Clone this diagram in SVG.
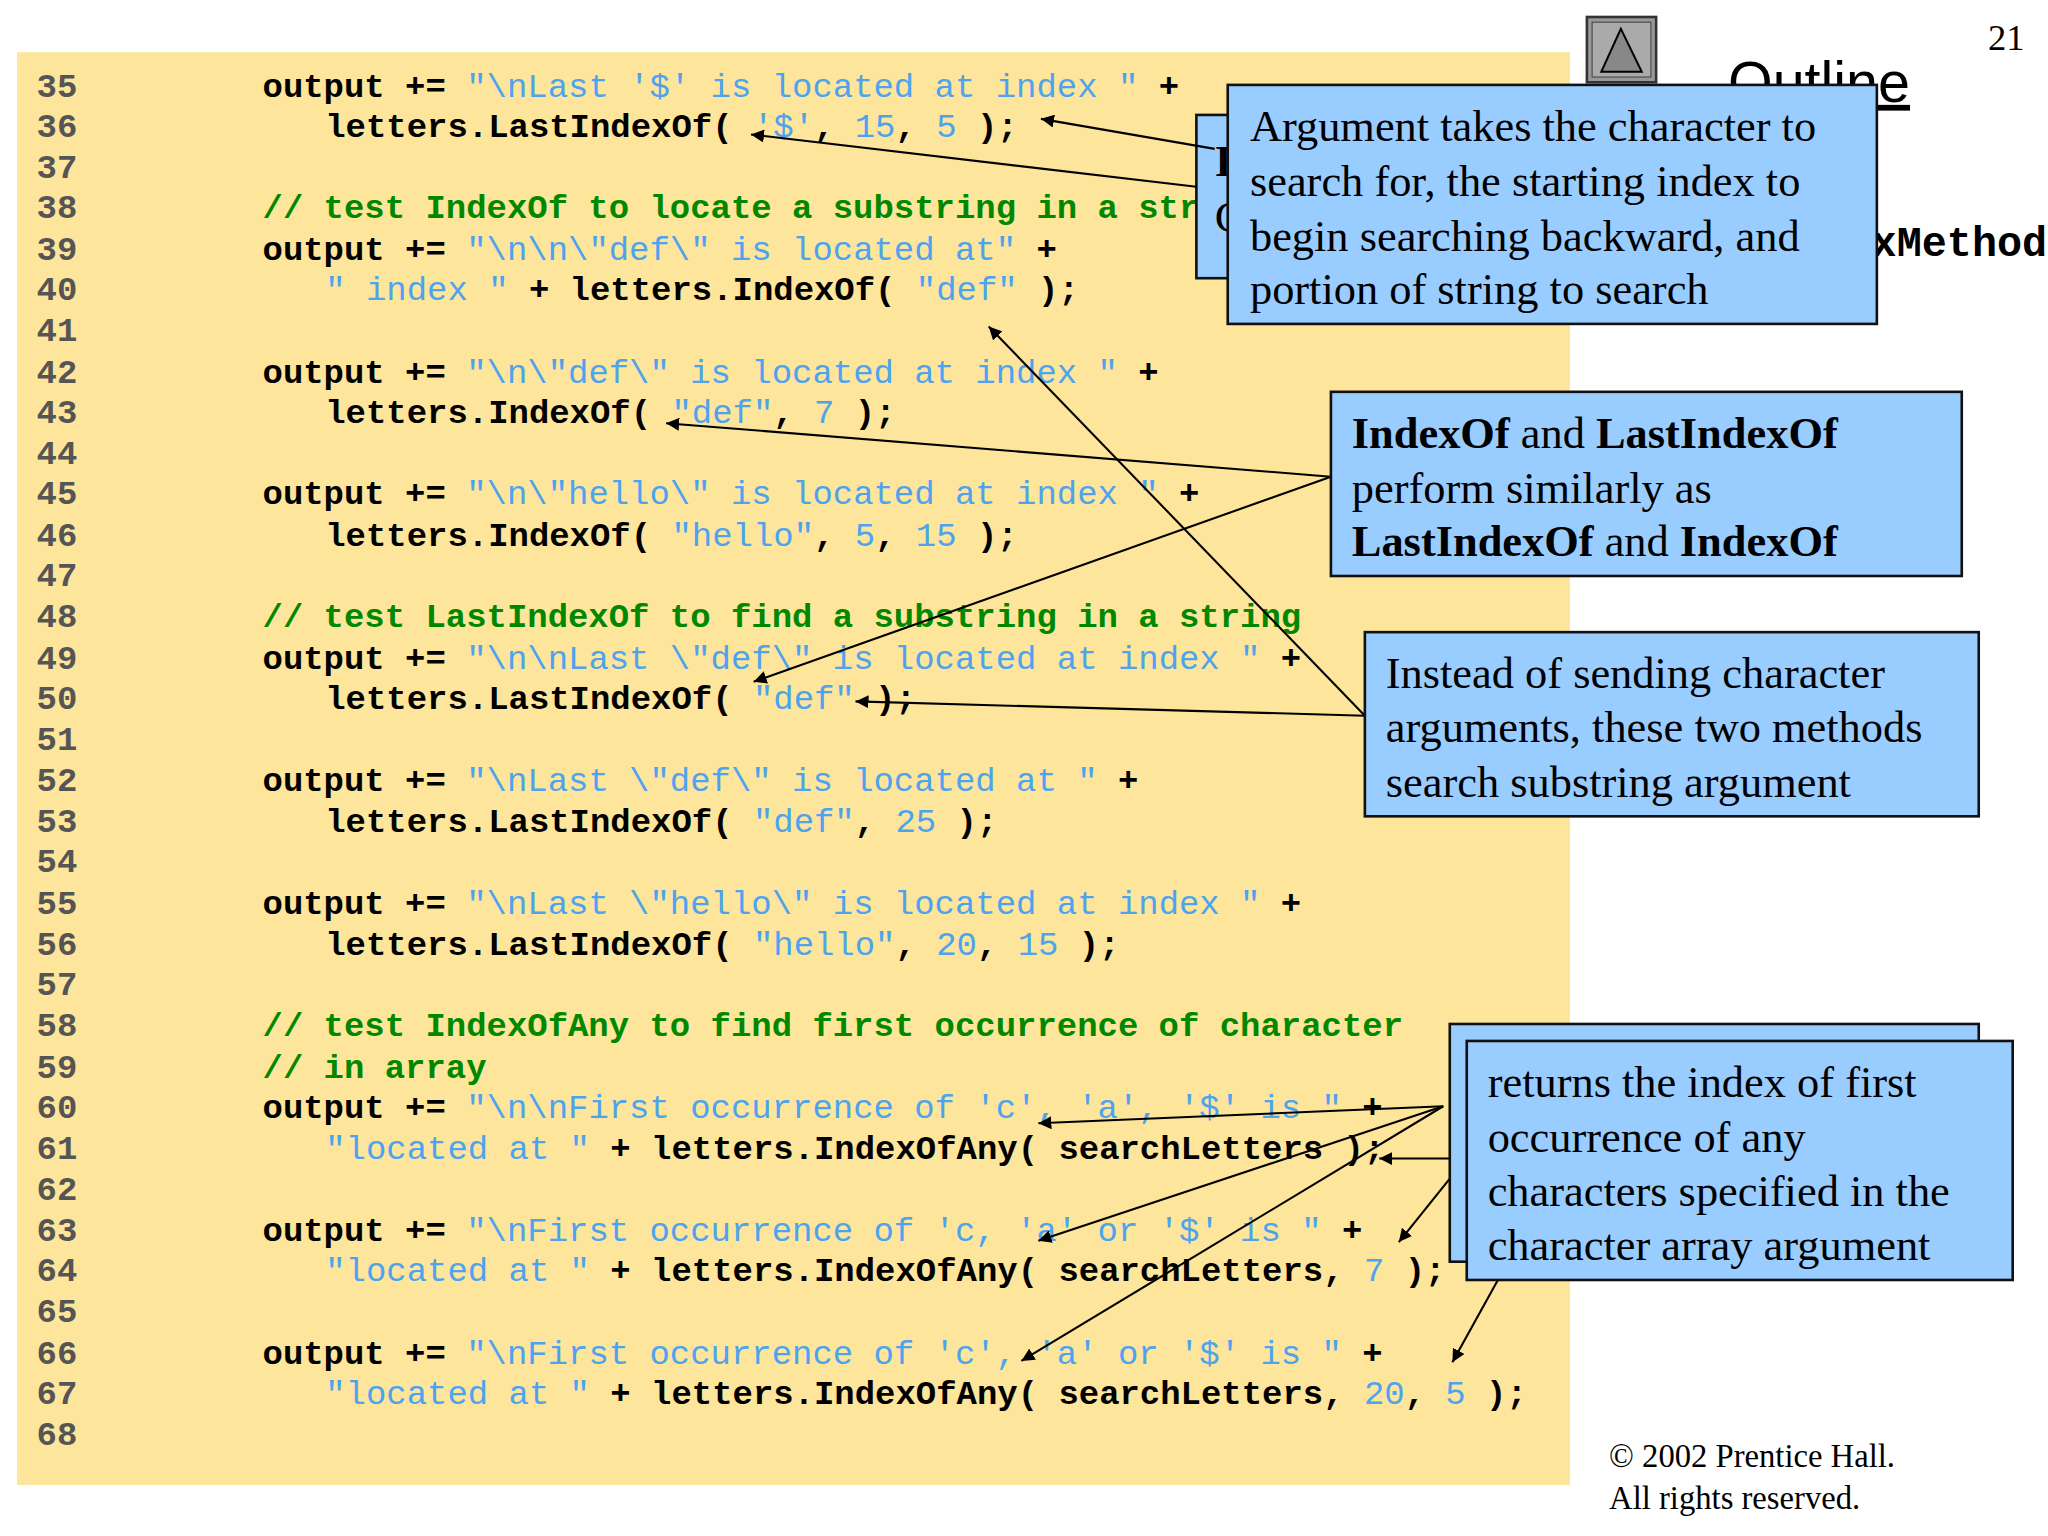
<svg xmlns="http://www.w3.org/2000/svg" width="2048" height="1536" viewBox="0 0 2048 1536">
<style>
.ln{font-family:"Liberation Mono",monospace;font-size:26px;fill:#555;font-weight:bold}
.c{font-family:"Liberation Mono",monospace;font-size:26px;font-weight:bold;fill:#000;white-space:pre}
.s{fill:#4da3ee;font-weight:normal}
.g{fill:#008800}
.box{fill:#99ccff;stroke:#111;stroke-width:2}
.t{font-family:"Liberation Serif",serif;font-size:34px;fill:#000}
.b{font-weight:bold}
.ar{stroke:#000;stroke-width:1.6;fill:none;marker-end:url(#ah)}
</style>
<defs><marker id="ah" viewBox="0 0 10 10" refX="10" refY="5" markerWidth="10" markerHeight="10" markerUnits="userSpaceOnUse" orient="auto"><path d="M0,0L10,5L0,10z" fill="#000"/></marker></defs>
<rect width="2048" height="1536" fill="#fff"/>
<g transform="scale(1.3061)">
<rect x="13" y="40" width="1189" height="1097" fill="#fde59b"/>
<g id="code">
<text class="ln" x="28" y="74">35</text><text class="c" x="201" y="74">output += <tspan class="s">"\nLast '$' is located at index "</tspan> +</text>
<text class="ln" x="28" y="105">36</text><text class="c" x="249" y="105">letters.LastIndexOf( <tspan class="s">'$'</tspan>, <tspan class="s">15</tspan>, <tspan class="s">5</tspan> );</text>
<text class="ln" x="28" y="136">37</text>
<text class="ln" x="28" y="167">38</text><text class="c g" x="201" y="167">// test IndexOf to locate a substring in a string</text>
<text class="ln" x="28" y="199">39</text><text class="c" x="201" y="199">output += <tspan class="s">"\n\n\"def\" is located at"</tspan> +</text>
<text class="ln" x="28" y="230">40</text><text class="c" x="249" y="230"><tspan class="s">" index "</tspan> + letters.IndexOf( <tspan class="s">"def"</tspan> );</text>
<text class="ln" x="28" y="261">41</text>
<text class="ln" x="28" y="293">42</text><text class="c" x="201" y="293">output += <tspan class="s">"\n\"def\" is located at index "</tspan> +</text>
<text class="ln" x="28" y="324">43</text><text class="c" x="249" y="324">letters.IndexOf( <tspan class="s">"def"</tspan>, <tspan class="s">7</tspan> );</text>
<text class="ln" x="28" y="355">44</text>
<text class="ln" x="28" y="386">45</text><text class="c" x="201" y="386">output += <tspan class="s">"\n\"hello\" is located at index "</tspan> +</text>
<text class="ln" x="28" y="418">46</text><text class="c" x="249" y="418">letters.IndexOf( <tspan class="s">"hello"</tspan>, <tspan class="s">5</tspan>, <tspan class="s">15</tspan> );</text>
<text class="ln" x="28" y="449">47</text>
<text class="ln" x="28" y="480">48</text><text class="c g" x="201" y="480">// test LastIndexOf to find a substring in a string</text>
<text class="ln" x="28" y="512">49</text><text class="c" x="201" y="512">output += <tspan class="s">"\n\nLast \"def\" is located at index "</tspan> +</text>
<text class="ln" x="28" y="543">50</text><text class="c" x="249" y="543">letters.LastIndexOf( <tspan class="s">"def"</tspan> );</text>
<text class="ln" x="28" y="574">51</text>
<text class="ln" x="28" y="606">52</text><text class="c" x="201" y="606">output += <tspan class="s">"\nLast \"def\" is located at "</tspan> +</text>
<text class="ln" x="28" y="637">53</text><text class="c" x="249" y="637">letters.LastIndexOf( <tspan class="s">"def"</tspan>, <tspan class="s">25</tspan> );</text>
<text class="ln" x="28" y="668">54</text>
<text class="ln" x="28" y="700">55</text><text class="c" x="201" y="700">output += <tspan class="s">"\nLast \"hello\" is located at index "</tspan> +</text>
<text class="ln" x="28" y="731">56</text><text class="c" x="249" y="731">letters.LastIndexOf( <tspan class="s">"hello"</tspan>, <tspan class="s">20</tspan>, <tspan class="s">15</tspan> );</text>
<text class="ln" x="28" y="762">57</text>
<text class="ln" x="28" y="793">58</text><text class="c g" x="201" y="793">// test IndexOfAny to find first occurrence of character</text>
<text class="ln" x="28" y="825">59</text><text class="c g" x="201" y="825">// in array</text>
<text class="ln" x="28" y="856">60</text><text class="c" x="201" y="856">output += <tspan class="s">"\n\nFirst occurrence of 'c', 'a', '$' is "</tspan> +</text>
<text class="ln" x="28" y="887">61</text><text class="c" x="249" y="887"><tspan class="s">"located at "</tspan> + letters.IndexOfAny( searchLetters );</text>
<text class="ln" x="28" y="919">62</text>
<text class="ln" x="28" y="950">63</text><text class="c" x="201" y="950">output += <tspan class="s">"\nFirst occurrence of 'c, 'a' or '$' is "</tspan> +</text>
<text class="ln" x="28" y="981">64</text><text class="c" x="249" y="981"><tspan class="s">"located at "</tspan> + letters.IndexOfAny( searchLetters, <tspan class="s">7</tspan> );</text>
<text class="ln" x="28" y="1012">65</text>
<text class="ln" x="28" y="1044">66</text><text class="c" x="201" y="1044">output += <tspan class="s">"\nFirst occurrence of 'c', 'a' or '$' is "</tspan> +</text>
<text class="ln" x="28" y="1075">67</text><text class="c" x="249" y="1075"><tspan class="s">"located at "</tspan> + letters.IndexOfAny( searchLetters, <tspan class="s">20</tspan>, <tspan class="s">5</tspan> );</text>
<text class="ln" x="28" y="1106">68</text>
</g>
<g id="header">
<text x="1522" y="38" font-family="Liberation Serif,serif" font-size="28">21</text>
<rect x="1215" y="13" width="53" height="50" fill="#999" stroke="#333" stroke-width="2"/>
<rect x="1219" y="17" width="45" height="42" fill="#aaa" stroke="#555" stroke-width="1"/>
<path d="M1241,22L1226,55L1257,55z" fill="#888" stroke="#000" stroke-width="1.5"/>
<text x="1323" y="78" font-family="Liberation Sans,sans-serif" font-size="44" text-decoration="underline">Outline</text>
<text x="1241" y="196" font-family="Liberation Mono,monospace" font-size="32" font-weight="bold">StringIndexMethods.cs</text>
<text x="1232" y="1123" font-family="Liberation Serif,serif" font-size="25">© 2002 Prentice Hall.</text>
<text x="1232" y="1155" font-family="Liberation Serif,serif" font-size="25">All rights reserved.</text>
</g>
<g id="hidden">
<rect class="box" x="916" y="88" width="60" height="125"/>
<text class="t b" x="930" y="135">I</text>
<text class="t" x="930" y="178">C</text>
</g>
<g id="connectors">
<line class="ar" x1="930" y1="114" x2="797" y2="91"/>
<line class="ar" x1="916" y1="143" x2="575" y2="103"/>
<line class="ar" x1="1019" y1="365" x2="510" y2="324"/>
<line class="ar" x1="1019" y1="365" x2="577" y2="522"/>
<line class="ar" x1="1045" y1="548" x2="757" y2="250"/>
<line class="ar" x1="1045" y1="548" x2="655" y2="537"/>
<line class="ar" x1="1105" y1="847" x2="795" y2="860"/>
<line class="ar" x1="1105" y1="847" x2="795" y2="950"/>
<line class="ar" x1="1105" y1="847" x2="782" y2="1042"/>
<line class="ar" x1="1120" y1="887" x2="1056" y2="887"/>
<line class="ar" x1="1120" y1="890" x2="1071" y2="951"/>
<line class="ar" x1="1148" y1="978" x2="1112" y2="1043"/>
</g>
<g id="callout1">
<rect class="box" x="940" y="65" width="497" height="183"/>
<text class="t" x="957" y="108">Argument takes the character to</text>
<text class="t" x="957" y="150">search for, the starting index to</text>
<text class="t" x="957" y="192">begin searching backward, and</text>
<text class="t" x="957" y="233">portion of string to search</text>
</g>
<g id="callout2">
<rect class="box" x="1019" y="300" width="483" height="141"/>
<text class="t" x="1035" y="343"><tspan class="b">IndexOf</tspan> and <tspan class="b">LastIndexOf</tspan></text>
<text class="t" x="1035" y="385">perform similarly as</text>
<text class="t" x="1035" y="426"><tspan class="b">LastIndexOf</tspan> and <tspan class="b">IndexOf</tspan></text>
</g>
<g id="callout3">
<rect class="box" x="1045" y="484" width="470" height="141"/>
<text class="t" x="1061" y="527">Instead of sending character</text>
<text class="t" x="1061" y="568">arguments, these two methods</text>
<text class="t" x="1061" y="610">search substring argument</text>
</g>
<g id="callout4">
<rect class="box" x="1110" y="784" width="405" height="182"/>
<rect class="box" x="1123" y="797" width="418" height="183"/>
<text class="t" x="1139" y="840">returns the index of first</text>
<text class="t" x="1139" y="882">occurrence of any</text>
<text class="t" x="1139" y="923">characters specified in the</text>
<text class="t" x="1139" y="965">character array argument</text>
</g>
</g>
</svg>
